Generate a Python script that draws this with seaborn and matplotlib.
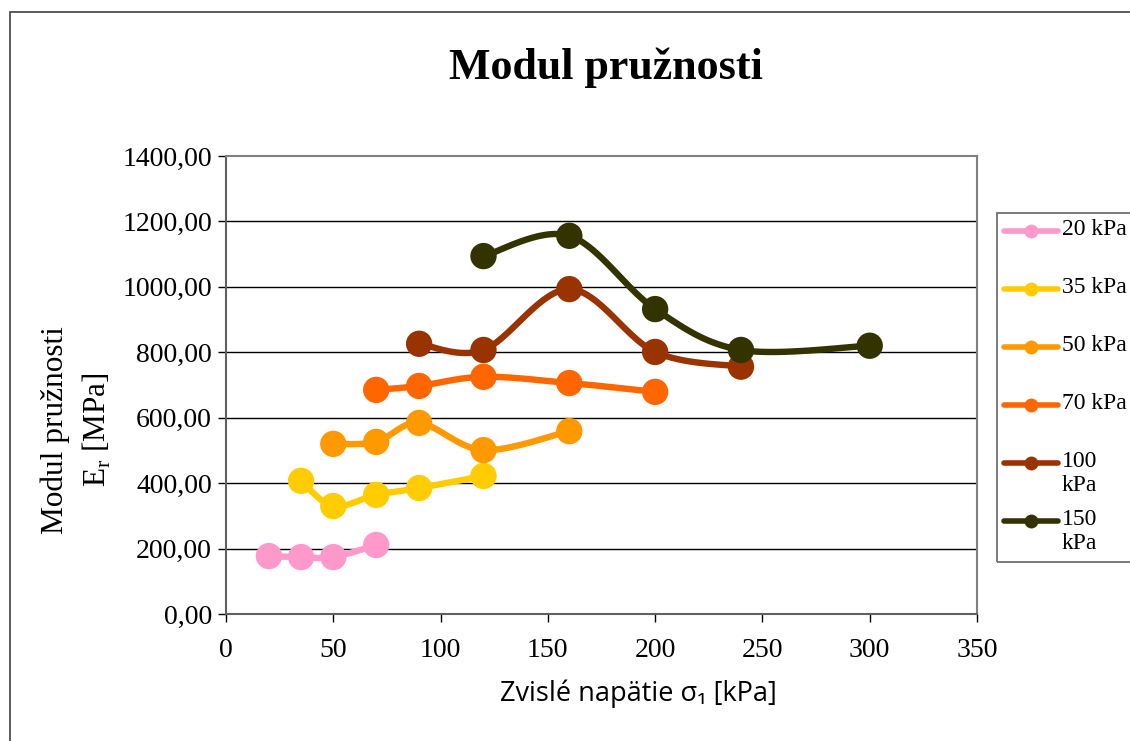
"""
plot.py
Modul pružnosti vs. zvislé napätie, vyhladené krivky ako v Exceli.
"""

import numpy as np
import pandas as pd
import matplotlib
matplotlib.use("Agg")
import matplotlib.pyplot as plt
from matplotlib.lines import Line2D
from matplotlib.patches import Rectangle
from matplotlib.ticker import FuncFormatter
import seaborn as sns

# Dáta (odčítané z grafu)
series = ["20 kPa", "35 kPa", "50 kPa", "70 kPa", "100 kPa", "150 kPa"]
legend_labels = ["20 kPa", "35 kPa", "50 kPa", "70 kPa", "100\nkPa", "150\nkPa"]
colors = ["#FF99CC", "#FFCC00", "#FF9900", "#FF6600", "#993300", "#333300"]

x_20 = [20, 35, 50, 70]
y_20 = [177, 174, 174, 211]
x_35 = [35, 50, 70, 90, 120]
y_35 = [407, 330, 364, 385, 422]
x_50 = [50, 70, 90, 120, 160]
y_50 = [520, 526, 584, 501, 559]
x_70 = [70, 90, 120, 160, 200]
y_70 = [685, 697, 725, 706, 679]
x_100 = [90, 120, 160, 200, 240]
y_100 = [826, 807, 993, 801, 756]
x_150 = [120, 160, 200, 240, 300]
y_150 = [1094, 1156, 932, 807, 820]

xs = [x_20, x_35, x_50, x_70, x_100, x_150]
ys = [y_20, y_35, y_50, y_70, y_100, y_150]

x_ticks = [0, 50, 100, 150, 200, 250, 300, 350]
y_ticks = [0, 200, 400, 600, 800, 1000, 1200, 1400]

SERIF = ["Liberation Serif", "DejaVu Serif"]
SANS = ["Open Sans", "DejaVu Sans"]


def smooth(x, y, n=30):
    # Bezier s riadiacimi bodmi ako Excel "vyhladená čiara"
    p = np.column_stack([x, y]).astype(float)
    pts = [p[0]]
    t = np.linspace(0, 1, n)[1:]
    for i in range(len(p) - 1):
        p0 = p[i - 1] if i > 0 else p[i]
        p3 = p[i + 2] if i + 2 < len(p) else p[i + 1]
        c1 = p[i] + (p[i + 1] - p0) / 6
        c2 = p[i + 1] - (p3 - p[i]) / 6
        for tt in t:
            b = ((1 - tt) ** 3 * p[i] + 3 * (1 - tt) ** 2 * tt * c1
                 + 3 * (1 - tt) * tt ** 2 * c2 + tt ** 3 * p[i + 1])
            pts.append(b)
    pts = np.array(pts)
    return pts[:, 0], pts[:, 1]


df = pd.concat(
    [pd.DataFrame({"x": x, "y": y, "seria": s}) for s, x, y in zip(series, xs, ys)],
    ignore_index=True,
)

sns.set_theme(style="white")
plt.rcParams["font.family"] = SERIF
plt.rcParams["mathtext.fontset"] = "custom"
plt.rcParams["mathtext.rm"] = "Liberation Serif"
for key in ["text.color", "axes.labelcolor", "xtick.color", "ytick.color"]:
    plt.rcParams[key] = "black"

fig = plt.figure(figsize=(11.3, 7.41), dpi=100)
ax = fig.add_axes([0.2, 0.1714, 0.6646, 0.6181])

# vyhladené čiary
for s, c, x, y in zip(series, colors, xs, ys):
    sx, sy = smooth(x, y)
    ax.plot(sx, sy, color=c, lw=4.6, solid_capstyle="round", zorder=3)

sns.scatterplot(data=df, x="x", y="y", hue="seria", palette=colors, hue_order=series,
                s=360, linewidth=0, legend=False, ax=ax, zorder=4)

ax.set_xlim(0, 350)
ax.set_ylim(0, 1400)
ax.set_xticks(x_ticks)
ax.set_yticks(y_ticks)
ax.yaxis.set_major_formatter(FuncFormatter(lambda v, _: f"{v:.2f}".replace(".", ",")))
ax.tick_params(axis="both", direction="out", length=6, width=1, color="black",
               labelsize=20, left=True, bottom=True)
ax.tick_params(axis="y", pad=4)
ax.tick_params(axis="x", pad=11)
for lbl in ax.get_xticklabels() + ax.get_yticklabels():
    lbl.set_fontfamily(SERIF)

for y in y_ticks[1:-1]:
    ax.axhline(y, color="black", lw=1, zorder=1)
for side in ["top", "right"]:
    ax.spines[side].set_color("#808080")
    ax.spines[side].set_linewidth(1.5)
for side in ["left", "bottom"]:
    ax.spines[side].set_color("#606060")
    ax.spines[side].set_linewidth(1.5)

ax.set_xlabel("")
ax.set_ylabel("")

fig.text(0.536, 0.908, "Modul pružnosti", ha="center", va="center",
         fontsize=31.7, fontweight="bold", family=SERIF)
fig.text(0.068, 0.42, "Modul pružnosti\nE$_\\mathregular{r}$ [MPa]", rotation=90,
         ha="center", va="center", multialignment="center", fontsize=22.5,
         family=SERIF, linespacing=1.45)
fig.text(0.565, 0.064, "Zvislé napätie σ₁ [kPa]", ha="center", va="center",
         fontsize=19.5, family=SANS)

# vonkajší rámček
fig.add_artist(Rectangle((10 / 1130, -0.02), 1.1, 1 - 12 / 741 + 0.02,
                         transform=fig.transFigure, fill=False,
                         edgecolor="#404040", lw=1.2))

# legenda (ručne, aby riadky sedeli ako v origináli)
fig.add_artist(Rectangle((997 / 1130, 1 - 562 / 741), 0.2, (562 - 213) / 741,
                         transform=fig.transFigure, fill=False,
                         edgecolor="#707070", lw=1.3))
for i, (lab, c) in enumerate(zip(legend_labels, colors)):
    yy = 1 - (231 + 58 * i) / 741
    fig.add_artist(Line2D([1004 / 1130, 1058 / 1130], [yy, yy], color=c, lw=4,
                          solid_capstyle="round", transform=fig.transFigure))
    fig.add_artist(Line2D([1031 / 1130], [yy], color=c, marker="o", markersize=10,
                          markeredgewidth=0, transform=fig.transFigure))
    fig.text(1062 / 1130, yy + 0.0165, lab, ha="left", va="top", fontsize=17,
             family=SERIF, linespacing=1.2)

fig.savefig("out.png", dpi=100)
plt.close(fig)
